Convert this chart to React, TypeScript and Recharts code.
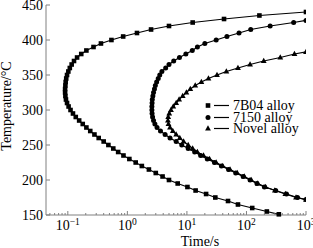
import React from 'react';
import { ScatterChart, Scatter, XAxis, YAxis, Legend } from 'recharts';

// tick values
const majorTimeTicks = [0.1, 1, 10, 100, 1000];
const minorTimeTicks = [
  0.05, 0.06, 0.07, 0.08, 0.09, 0.2, 0.3, 0.4, 0.5, 0.6, 0.7, 0.8, 0.9,
  2, 3, 4, 5, 6, 7, 8, 9, 20, 30, 40, 50, 60, 70, 80, 90,
  200, 300, 400, 500, 600, 700, 800, 900,
];
const tempTicks = [150, 200, 250, 300, 350, 400, 450];

// 7B04 alloy
const b04Temp = [440, 435, 430, 425, 420, 415, 410, 405, 400, 395, 390, 385, 380, 375, 370, 365, 360, 355, 350, 345, 340, 335, 330, 325, 320, 315, 310, 305, 300, 295, 290, 285, 280, 275, 270, 265, 260, 255, 250, 245, 240, 235, 230, 225, 220, 215, 210, 205, 200, 195, 190, 185, 180, 175, 170, 165, 160, 155, 151];
const b04Time = [1000, 165, 42, 12.5, 5.0, 2.5, 1.45, 0.85, 0.54, 0.36, 0.27, 0.205, 0.168, 0.143, 0.127, 0.116, 0.108, 0.102, 0.097, 0.094, 0.092, 0.091, 0.09, 0.09, 0.091, 0.093, 0.097, 0.103, 0.111, 0.122, 0.136, 0.155, 0.178, 0.205, 0.238, 0.28, 0.33, 0.4, 0.48, 0.58, 0.7, 0.86, 1.08, 1.38, 1.75, 2.3, 3.0, 3.9, 5.0, 7.0, 10.2, 14, 21, 30, 49, 72, 125, 220, 350];

// 7150 alloy
const a7150Temp = [428, 425, 420, 415, 410, 405, 400, 395, 390, 385, 380, 375, 370, 365, 360, 355, 350, 345, 340, 335, 330, 325, 320, 315, 310, 305, 300, 295, 290, 285, 280, 275, 270, 265, 260, 255, 250, 245, 240, 235, 230, 225, 220, 215, 210, 205, 200, 195, 190, 185, 180, 175, 172];
const a7150Time = [1000, 620, 250, 118, 75, 47, 31, 20, 15, 12.3, 9.6, 7.5, 6.0, 5.0, 4.4, 3.8, 3.5, 3.3, 3.1, 2.95, 2.85, 2.75, 2.68, 2.62, 2.6, 2.58, 2.58, 2.6, 2.65, 2.75, 2.9, 3.15, 3.6, 4.3, 5.2, 6.6, 8.2, 10.5, 13.5, 17, 22, 29, 38, 50, 66, 88, 115, 150, 200, 310, 470, 720, 1000];

// Novel alloy
const novelTemp = [383, 380, 375, 370, 365, 360, 355, 350, 345, 340, 335, 330, 325, 320, 315, 310, 305, 300, 295, 290, 285, 280, 275, 270, 265, 260, 255, 250, 245, 240, 235, 230, 225, 220, 215, 210, 205, 200, 195, 190, 185, 180, 175, 172];
const novelTime = [1000, 640, 370, 195, 115, 72, 46, 32, 23, 17.5, 13.8, 11.4, 9.8, 8.5, 7.4, 6.6, 5.9, 5.4, 5.05, 4.85, 4.8, 4.9, 5.2, 5.8, 6.6, 7.6, 8.8, 10.5, 12.5, 15, 19, 24, 31, 40, 53, 70, 92, 120, 155, 210, 300, 450, 680, 1000];

const legendItems = [
  { name: '7B04 alloy', marker: 'square' },
  { name: '7150 alloy', marker: 'circle' },
  { name: 'Novel alloy', marker: 'triangle' },
];

const toPoints = (times: number[], temps: number[]) =>
  times.map((t, i) => ({ time: t, temp: temps[i] }));

const FONT = '"Liberation Serif", "Times New Roman", serif';
const FRAME = '#808080';

const Marker = ({ kind, cx, cy }: { kind: string; cx: number; cy: number }) => {
  if (kind === 'square') return <rect x={cx - 2.3} y={cy - 2.3} width={4.6} height={4.6} fill="#000" />;
  if (kind === 'circle') return <circle cx={cx} cy={cy} r={2.5} fill="#000" />;
  return <polygon points={`${cx},${cy - 3.2} ${cx - 2.9},${cy + 2.1} ${cx + 2.9},${cy + 2.1}`} fill="#000" />;
};

const shapeOf = (kind: string) => (props: any) => {
  if (props.cx == null || props.cy == null) return <g />;
  return <Marker kind={kind} cx={props.cx} cy={props.cy} />;
};

const TimeTick = (props: any) => {
  const { x, y, payload } = props;
  const v = payload.value;
  const major = majorTimeTicks.includes(v);
  const exp = Math.round(Math.log10(v));
  return (
    <g>
      <line x1={x} x2={x} y1={y} y2={y - (major ? 4 : 2)} stroke={FRAME} strokeWidth={1} />
      {major && (
        <text x={x} y={y + 15} textAnchor="middle" fontFamily={FONT} fontSize={14} fill="#000">
          <tspan>10</tspan>
          <tspan dy={-5} fontSize={9.5}>{exp < 0 ? `\u2212${-exp}` : `${exp}`}</tspan>
        </text>
      )}
    </g>
  );
};

const TempTick = (props: any) => {
  const { x, y, payload } = props;
  return (
    <g>
      <line x1={x} x2={x + 4} y1={y} y2={y} stroke={FRAME} strokeWidth={1} />
      <text x={x - 3} y={y + 4.5} textAnchor="end" fontFamily={FONT} fontSize={14} fill="#000">
        {payload.value}
      </text>
    </g>
  );
};

const renderLegend = () => (
  <div style={{ fontFamily: FONT, fontSize: 14, color: '#000' }}>
    {legendItems.map((item) => (
      <div key={item.name} style={{ display: 'flex', alignItems: 'center', height: 11.6, lineHeight: '11.6px' }}>
        <svg width={29} height={11} style={{ display: 'block' }}>
          <Marker kind={item.marker} cx={4} cy={5.5} />
          <line x1={10} x2={25} y1={5.5} y2={5.5} stroke="#000" strokeWidth={1.2} />
        </svg>
        <span>{item.name}</span>
      </div>
    ))}
  </div>
);

const App: React.FC = () => {
  const b04 = toPoints(b04Time, b04Temp);
  const a7150 = toPoints(a7150Time, a7150Temp);
  const novel = toPoints(novelTime, novelTemp);

  return (
    <div style={{ position: 'absolute', left: 0, top: 0, width: 313, height: 248, background: '#fff' }}>
      <ScatterChart width={313} height={248} margin={{ top: 5, right: 7, bottom: 0, left: 0 }}>
        <XAxis
          dataKey="time"
          type="number"
          scale="log"
          domain={[0.043, 1000]}
          allowDataOverflow
          ticks={[...minorTimeTicks, ...majorTimeTicks]}
          interval={0}
          tick={<TimeTick />}
          tickSize={0}
          tickMargin={0}
          height={33}
          stroke={FRAME}
          label={{
            content: ({ viewBox }: any) => (
              <text
                x={viewBox.x + viewBox.width / 2 + 24}
                y={viewBox.y + 31}
                textAnchor="middle"
                fontFamily={FONT}
                fontSize={14}
                fill="#000"
              >
                Time/s
              </text>
            ),
          }}
        />
        <XAxis xAxisId="top" orientation="top" type="number" domain={[0, 1]} height={0} tick={false} stroke={FRAME} />
        <YAxis
          dataKey="temp"
          type="number"
          domain={[150, 450]}
          ticks={tempTicks}
          interval={0}
          tick={<TempTick />}
          tickSize={0}
          tickMargin={0}
          width={46}
          stroke={FRAME}
          label={{
            content: ({ viewBox }: any) => {
              const cx = viewBox.x + 11;
              const cy = viewBox.y + viewBox.height / 2 - 4;
              return (
                <text
                  x={cx}
                  y={cy}
                  transform={`rotate(-90 ${cx} ${cy})`}
                  textAnchor="middle"
                  fontFamily={FONT}
                  fontSize={14}
                  fill="#000"
                >
                  Temperature/°C
                </text>
              );
            },
          }}
        />
        <YAxis yAxisId="right" orientation="right" type="number" domain={[0, 1]} width={0} tick={false} stroke={FRAME} />
        <Legend
          content={renderLegend}
          layout="vertical"
          align="center"
          verticalAlign="middle"
          wrapperStyle={{ left: 204, top: 100, width: 'auto' }}
        />
        <Scatter
          name="7B04 alloy"
          data={b04}
          line={{ stroke: '#000', strokeWidth: 1.2 }}
          lineType="joint"
          shape={shapeOf('square')}
          isAnimationActive={false}
        />
        <Scatter
          name="7150 alloy"
          data={a7150}
          line={{ stroke: '#000', strokeWidth: 1.2 }}
          lineType="joint"
          shape={shapeOf('circle')}
          isAnimationActive={false}
        />
        <Scatter
          name="Novel alloy"
          data={novel}
          line={{ stroke: '#000', strokeWidth: 1.2 }}
          lineType="joint"
          shape={shapeOf('triangle')}
          isAnimationActive={false}
        />
      </ScatterChart>
    </div>
  );
};

export default App;
